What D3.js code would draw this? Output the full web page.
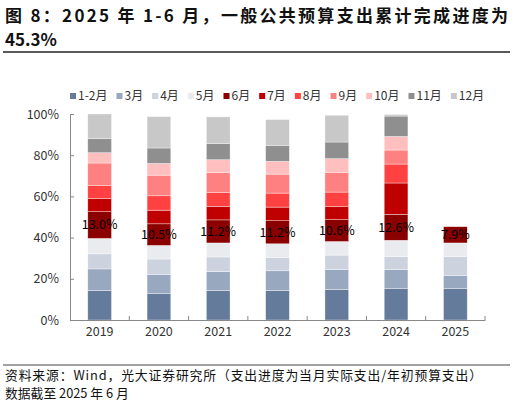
<!DOCTYPE html>
<html>
<head>
<meta charset="utf-8">
<script src="https://cdn.jsdelivr.net/npm/d3@7"></script>
<style>
  body { margin: 0; background: #fff; }
  text { font-family: "Noto Sans CJK SC", "Noto Sans", sans-serif; }
</style>
</head>
<body>
<div id="chart"></div>
<script>
// 年份与月份
const years = ["2019", "2020", "2021", "2022", "2023", "2024", "2025"];
const months = ["1-2月", "3月", "4月", "5月", "6月", "7月", "8月", "9月", "10月", "11月", "12月"];
const colors = ["#647b9b", "#98a8be", "#ccd3df", "#eaebef", "#8b0000", "#c00000",
                "#ff4141", "#ff8080", "#ffbfbf", "#8f8f8f", "#c8c8c8"];

// 各月支出进度 (%), 按年份
const m1_2 = [14.3, 12.8, 14.3, 14.3, 14.9, 15.4, 15.4];
const m3   = [10.5,  9.2,  9.2,  9.6,  9.6,  9.1,  6.2];
const m4   = [ 7.3,  7.6,  7.1,  6.5,  7.0,  6.3,  9.1];
const m5   = [ 7.5,  6.6,  6.8,  6.6,  6.6,  7.9,  6.7];
const m6   = [13.0, 10.5, 11.2, 11.2, 10.6, 12.6,  7.9];
const m7   = [ 6.3,  6.6,  6.6,  6.6,  6.3, 15.2,  0];
const m8   = [ 6.3,  7.0,  6.8,  6.8,  7.1,  9.2,  0];
const m9   = [11.0, 10.0,  9.6,  9.2,  9.6,  6.8,  0];
const m10  = [ 5.0,  5.7,  6.2,  6.2,  6.6,  6.6,  0];
const m11  = [ 6.8,  7.5,  7.8,  7.8,  8.1,  9.9,  0];
const m12  = [12.0, 15.2, 13.0, 12.5, 13.0,  0.8,  0];
const series = [m1_2, m3, m4, m5, m6, m7, m8, m9, m10, m11, m12];

const yTicks = [0, 0.2, 0.4, 0.6, 0.8, 1.0];

let width = 516, height = 403;
let margin = { top: 114, bottom: 83, left: 70, right: 31 };

let svg = d3.select("#chart")
            .append("svg")
            .attr("width", width)
            .attr("height", height);

// 标题
svg.append("text")
   .text("图 8：2025 年 1-6 月，一般公共预算支出累计完成进度为")
   .attr("x", 5)
   .attr("y", 22)
   .attr("textLength", 503)
   .attr("lengthAdjust", "spacing")
   .style("font-size", "17px")
   .style("font-weight", "bold")
   .attr("fill", "#111");

svg.append("text")
   .text("45.3%")
   .attr("x", 5)
   .attr("y", 46)
   .style("font-size", "17px")
   .style("font-weight", "bold")
   .attr("fill", "#111");

svg.append("line")
   .attr("x1", 3).attr("x2", 510)
   .attr("y1", 52).attr("y2", 52)
   .attr("stroke", "#222")
   .attr("stroke-width", 1.5);

// 数据表
let table = years.map((y, i) => {
  let row = { year: y };
  months.forEach((m, j) => row[m] = series[j][i] / 100);
  return row;
});
let stacked = d3.stack().keys(months)(table);

let xscale = d3.scaleBand()
               .domain(years)
               .range([margin.left, width - margin.right])
               .paddingInner(0.6)
               .paddingOuter(0.3);

let yscale = d3.scaleLinear()
               .domain([0, 1])
               .range([height - margin.bottom, margin.top]);

let color = d3.scaleOrdinal().domain(months).range(colors);

// 柱子
let groups = svg.selectAll("g.layer")
                .data(stacked)
                .enter()
                .append("g")
                .attr("class", "layer")
                .attr("fill", d => color(d.key));

groups.selectAll("rect")
      .data(d => d.filter(p => p[1] - p[0] > 0))
      .enter()
      .append("rect")
      .attr("x", d => xscale(d.data.year))
      .attr("y", d => yscale(d[1]))
      .attr("width", xscale.bandwidth())
      .attr("height", d => yscale(d[0]) - yscale(d[1]))
      .attr("stroke", "#fff")
      .attr("stroke-opacity", 0.6)
      .attr("stroke-width", 0.6);

// 6月 标签
let june = stacked[months.indexOf("6月")];
svg.selectAll("text.lbl")
   .data(june)
   .enter()
   .append("text")
   .attr("class", "lbl")
   .attr("x", d => xscale(d.data.year) + xscale.bandwidth() / 2)
   .attr("y", d => yscale((d[0] + d[1]) / 2))
   .attr("dy", "0.35em")
   .attr("text-anchor", "middle")
   .style("font-size", "12.5px")
   .attr("fill", "#000")
   .text(d => ((d[1] - d[0]) * 100).toFixed(1) + "%");

// 坐标轴
let yaxis = svg.append("g")
               .attr("transform", `translate(${margin.left},0)`)
               .call(d3.axisLeft(yscale).tickValues(yTicks).tickFormat(d3.format(".0%")).tickSizeInner(-4).tickSizeOuter(0).tickPadding(11));

let xaxis = svg.append("g")
               .attr("transform", `translate(0,${height - margin.bottom})`)
               .call(d3.axisBottom(xscale).tickSize(0).tickPadding(7));

xaxis.selectAll(".tick")
     .append("line")
     .attr("x1", xscale.step() / 2).attr("x2", xscale.step() / 2)
     .attr("y1", 0).attr("y2", -4)
     .attr("stroke", "#888");

[yaxis, xaxis].forEach(ax => {
  ax.select(".domain").attr("stroke", "#888");
  ax.selectAll(".tick line").attr("stroke", "#888");
  ax.selectAll("text").style("font-size", "12.5px").attr("fill", "#333")
    .style("font-family", "'Noto Sans CJK SC', sans-serif");
});

// 图例
let legend = svg.append("g").attr("transform", "translate(70,96)");
let lx = 0;
months.forEach(m => {
  let item = legend.append("g").attr("transform", `translate(${lx},0)`);
  item.append("rect")
      .attr("x", 0).attr("y", -3)
      .attr("width", 6).attr("height", 6)
      .attr("fill", color(m));
  let t = item.append("text")
      .attr("x", 8).attr("y", 0)
      .attr("dy", "0.35em")
      .style("font-size", "12px")
      .attr("fill", "#333")
      .text(m);
  lx += 8 + t.node().getComputedTextLength() + 9;
});

// 资料来源
svg.append("line")
   .attr("x1", 3).attr("x2", 510)
   .attr("y1", 365).attr("y2", 365)
   .attr("stroke", "#444")
   .attr("stroke-width", 1);

svg.append("text")
   .text("资料来源：Wind，光大证券研究所（支出进度为当月实际支出/年初预算支出）")
   .attr("x", 5).attr("y", 380)
   .attr("textLength", 477)
   .attr("lengthAdjust", "spacing")
   .style("font-size", "12.8px")
   .attr("fill", "#111");

svg.append("text")
   .text("数据截至 2025 年 6 月")
   .attr("x", 5).attr("y", 398)
   .style("font-size", "12.8px")
   .attr("fill", "#111");
</script>
</body>
</html>
